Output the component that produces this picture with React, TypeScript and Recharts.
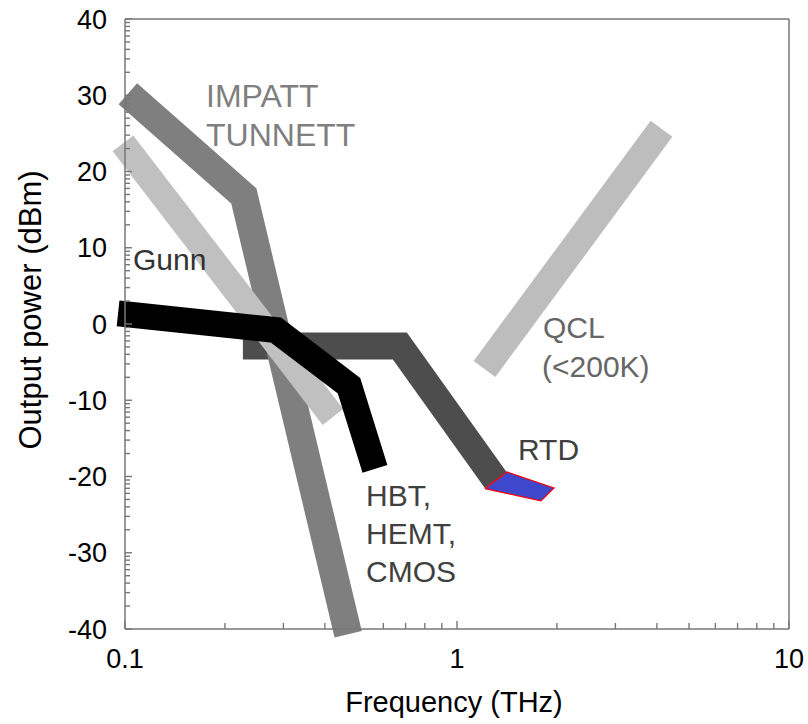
import React from "react";
import { LineChart, Line, XAxis, YAxis, ReferenceLine } from "recharts";

// tick positions (log x axis, y axis with log-spaced minor ticks per decade)
const X_TICKS = [0.1, 0.2, 0.3, 0.4, 0.5, 0.6, 0.7, 0.8, 0.9, 1, 2, 3, 4, 5, 6, 7, 8, 9, 10];
const X_MAJOR = [0.1, 1, 10];
const Y_MAJOR = [-40, -30, -20, -10, 0, 10, 20, 30, 40];
const Y_MINOR_K = [2, 3, 4, 5, 6, 7, 8, 9];

const Y_TICKS: number[] = [...Y_MAJOR];
Y_MAJOR.slice(1).forEach((top) => {
  Y_MINOR_K.forEach((k) => Y_TICKS.push(top - 10 + 10 * Math.log10(k)));
});

// bands: frequency (THz) / output power (dBm)
const impattBand = [
  { f: 0.102, p: 30.2 },
  { f: 0.228, p: 16.8 },
  { f: 0.47, p: -40.7 },
];
const gunnBand = [
  { f: 0.0986, p: 23.7 },
  { f: 0.423, p: -12.2 },
];
const transistorBand = [
  { f: 0.0953, p: 1.4 },
  { f: 0.285, p: -0.8 },
  { f: 0.473, p: -8.1 },
  { f: 0.566, p: -19 },
];
const rtdBand = [
  { f: 0.2265, p: -2.9 },
  { f: 0.673, p: -2.9 },
  { f: 1.31, p: -20.5 },
];
const qclBand = [
  { f: 1.21, p: -5.9 },
  { f: 4.13, p: 25.6 },
];
const rtdCell = [
  { f: 1.214, p: -21.6 },
  { f: 1.414, p: -19.4 },
  { f: 1.96, p: -21.5 },
  { f: 1.79, p: -23.2 },
  { f: 1.214, p: -21.6 },
];

const FONT = "'Liberation Sans', Arial, sans-serif";
const AXIS = "#777777";

const css = `
.thz .recharts-line, .thz .recharts-line * { clip-path: none !important; }
.thz .rtd-cell .recharts-curve { fill: #3f48cc !important; }
`;

function XTick(props: any) {
  const { x, y, payload } = props;
  const v = payload.value;
  const major = X_MAJOR.includes(v);
  return (
    <g>
      <line x1={x} x2={x} y1={y} y2={y - (major ? 8 : 6)} stroke={AXIS} strokeWidth={1.4} />
      {major && (
        <text x={x} y={y + 39} textAnchor="middle" fontSize={27} fontFamily={FONT} fill="#000">
          {String(v)}
        </text>
      )}
    </g>
  );
}

function YTick(props: any) {
  const { x, y, payload } = props;
  const v = payload.value;
  const major = Y_MAJOR.includes(v);
  return (
    <g>
      <line x1={x} x2={x + (major ? 7 : 5)} y1={y} y2={y} stroke={AXIS} strokeWidth={1.4} />
      {major && (
        <text x={x - 18} y={y + 9.7} textAnchor="end" fontSize={27} fontFamily={FONT} fill="#000">
          {String(v)}
        </text>
      )}
    </g>
  );
}

const band = (data: any[], color: string, width: number) => (
  <Line
    data={data}
    dataKey="p"
    type="linear"
    stroke={color}
    strokeWidth={width}
    strokeLinecap="butt"
    strokeLinejoin="miter"
    dot={false}
    activeDot={false}
    legendType="none"
    isAnimationActive={false}
  />
);

export default function App() {
  return (
    <div className="thz" style={{ position: "absolute", left: 0, top: 0, width: 808, height: 724, background: "#fff" }}>
      <style>{css}</style>
      <LineChart width={808} height={724} margin={{ top: 19, right: 19, bottom: 35, left: 0 }}>
        <XAxis
          dataKey="f"
          type="number"
          scale="log"
          domain={[0.1, 10]}
          allowDataOverflow
          ticks={X_TICKS}
          interval={0}
          height={60}
          tickSize={0}
          tickMargin={0}
          tickLine={false}
          axisLine={{ stroke: AXIS, strokeWidth: 1.5 }}
          tick={<XTick />}
        />
        <YAxis
          type="number"
          domain={[-40, 40]}
          allowDataOverflow
          ticks={Y_TICKS}
          interval={0}
          width={125}
          tickSize={0}
          tickMargin={0}
          tickLine={false}
          axisLine={{ stroke: AXIS, strokeWidth: 1.5 }}
          tick={<YTick />}
        />
        <ReferenceLine y={40} stroke={AXIS} strokeWidth={1.5} />
        <ReferenceLine x={10} stroke={AXIS} strokeWidth={1.5} />
        {band(rtdBand, "#4d4d4d", 27)}
        {band(impattBand, "#7f7f7f", 28)}
        {band(gunnBand, "#c0c0c0", 26)}
        {band(transistorBand, "#000000", 26)}
        {band(qclBand, "#bdbdbd", 27)}
        <Line
          data={rtdCell}
          dataKey="p"
          type="linear"
          stroke="#ff0000"
          strokeWidth={1.2}
          strokeLinejoin="miter"
          dot={false}
          activeDot={false}
          legendType="none"
          className="rtd-cell"
          isAnimationActive={false}
        />
      </LineChart>
      {/* annotation labels, kept above the bands */}
      <svg
        width={808}
        height={724}
        style={{ position: "absolute", left: 0, top: 0, pointerEvents: "none" }}
        fontFamily={FONT}
      >
        <text x={206} y={107} fontSize={32} fill="#7f7f7f">IMPATT</text>
        <text x={206} y={146} fontSize={32} fill="#7f7f7f">TUNNETT</text>
        <text x={133} y={270} fontSize={30} fill="#333333">Gunn</text>
        <text x={543} y={338} fontSize={30} fill="#666666">QCL</text>
        <text x={542} y={377} fontSize={30} fill="#666666">(&lt;200K)</text>
        <text x={518} y={460} fontSize={30} fill="#404040">RTD</text>
        <text x={366} y={506} fontSize={30} fill="#404040">HBT,</text>
        <text x={366} y={544} fontSize={30} fill="#404040">HEMT,</text>
        <text x={366} y={582} fontSize={30} fill="#404040">CMOS</text>
        <text x={454} y={712} fontSize={29} fill="#000" textAnchor="middle">Frequency (THz)</text>
        <text x={41} y={310} fontSize={31} fill="#000" textAnchor="middle" transform="rotate(-90 41 310)">
          Output power (dBm)
        </text>
      </svg>
    </div>
  );
}
